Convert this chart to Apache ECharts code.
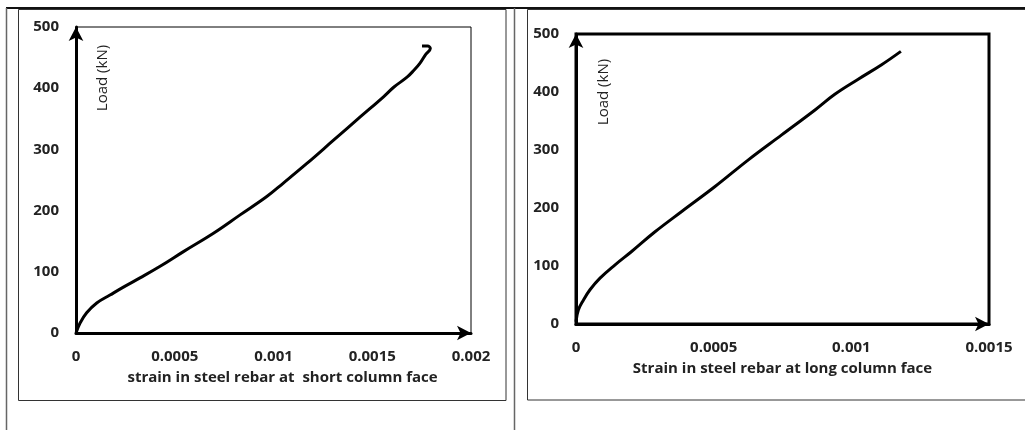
<!DOCTYPE html>
<html>
<head>
<meta charset="utf-8">
<script src="https://cdn.jsdelivr.net/npm/echarts@6/dist/echarts.min.js"></script>
<style>
html,body{margin:0;padding:0;background:#fff;}
#chart{width:1025px;height:430px;}
</style>
</head>
<body>
<div id="chart"></div>
<script>
// ---- data ----
const shortStrain = [0, 0.00002, 0.000054, 0.000105, 0.000172, 0.00024, 0.000324, 0.000426, 0.000544, 0.000696, 0.000831, 0.000966, 0.00105, 0.001169, 0.001304, 0.001439, 0.001557, 0.00161, 0.001676, 0.00171, 0.001742, 0.00177, 0.001794, 0.00178, 0.001752];
const shortLoad   = [0, 16, 33, 49, 62, 75, 90, 109, 133, 163, 193, 223, 245, 277, 315, 353, 386, 402, 418, 429, 441, 455, 465, 469, 469];
const longStrain = [0, 0.0000085, 0.0000266, 0.0000508, 0.0000872, 0.000142, 0.000202, 0.000287, 0.000384, 0.000505, 0.000626, 0.000747, 0.000868, 0.00094, 0.001025, 0.00111, 0.00118];
const longLoad   = [4, 24, 41, 59, 79, 102, 125, 159, 194, 237, 283, 326, 369, 396, 422, 447, 470];
const leftXTicks = ['0', '0.0005', '0.001', '0.0015', '0.002'];
const rightXTicks = ['0', '0.0005', '0.001', '0.0015'];
const yTicks = ['0', '100', '200', '300', '400', '500'];
const leftXTitle = 'strain in steel rebar at  short column face';
const rightXTitle = 'Strain in steel rebar at long column face';
const yTitle = 'Load (kN)';

const chart = echarts.init(document.getElementById('chart'));
const FONT = '"Open Sans", "Liberation Sans", sans-serif';
const TXT = '#222';

function pairs(xs, ys){ return xs.map((x,i)=>[x, ys[i]]); }
function xLabel(arr){ return v => arr[Math.round(v/0.0005)] ?? ''; }
function yLabel(v){ return yTicks[Math.round(v/100)] ?? ''; }

function xAxis(gi, max, ticks, title, pad){
  return {
    type:'value', gridIndex:gi, min:0, max:max, interval:0.0005,
    axisLine:{show:true, onZero:false, symbol:['none','arrow'], symbolSize:[11,14], lineStyle:{color:'#000', width:3}},
    axisTick:{show:false}, splitLine:{show:false},
    axisLabel:{formatter:xLabel(ticks), color:TXT, fontSize:15, fontWeight:'bold', fontFamily:FONT, margin:16},
    name:title, nameLocation:'middle', nameGap:37,
    nameTextStyle:{color:TXT, fontSize:15, fontWeight:'bold', fontFamily:FONT, padding:pad}
  };
}
function yAxis(gi){
  return {
    type:'value', gridIndex:gi, min:0, max:500, interval:100,
    axisLine:{show:true, onZero:false, symbol:['none','arrow'], symbolSize:[11,14], lineStyle:{color:'#000', width:3}},
    axisTick:{show:false}, splitLine:{show:false},
    axisLabel:{formatter:yLabel, color:TXT, fontSize:15, fontWeight:'bold', fontFamily:FONT, margin:17}
  };
}

chart.setOption({
  animation:false,
  backgroundColor:'#fff',
  grid:[
    {left:76, top:27, width:395, height:306, show:true, borderColor:'#000', borderWidth:1},
    {left:576, top:34, width:413, height:290, show:true, borderColor:'#000', borderWidth:3}
  ],
  xAxis:[ xAxis(0, 0.002, leftXTicks, leftXTitle, [0,0,0,18]), xAxis(1, 0.0015, rightXTicks, rightXTitle, [0,0,0,0]) ],
  yAxis:[ yAxis(0), yAxis(1) ],
  series:[
    {type:'line', xAxisIndex:0, yAxisIndex:0, data:pairs(shortStrain, shortLoad), showSymbol:false, smooth:0.4,
     lineStyle:{color:'#000', width:3}, z:5},
    {type:'line', xAxisIndex:1, yAxisIndex:1, data:pairs(longStrain, longLoad), showSymbol:false, smooth:0.4,
     lineStyle:{color:'#000', width:3}, z:5}
  ],
  graphic:[
    {type:'line', shape:{x1:6, y1:8, x2:1025, y2:8}, style:{stroke:'#111', lineWidth:2}},
    {type:'line', shape:{x1:6.5, y1:8, x2:6.5, y2:430}, style:{stroke:'#666', lineWidth:1.5}},
    {type:'line', shape:{x1:514.5, y1:8, x2:514.5, y2:430}, style:{stroke:'#666', lineWidth:1.5}},
    {type:'rect', shape:{x:18.5, y:9.5, width:487.5, height:391}, style:{fill:'none', stroke:'#333', lineWidth:1}},
    {type:'rect', shape:{x:527.5, y:9.5, width:520, height:390.5}, style:{fill:'none', stroke:'#333', lineWidth:1}},
    {type:'text', x:103, y:78, rotation:Math.PI/2, style:{text:yTitle, fill:TXT, font:'500 15px ' + FONT, align:'center', verticalAlign:'middle'}},
    {type:'text', x:604, y:92, rotation:Math.PI/2, style:{text:yTitle, fill:TXT, font:'500 15px ' + FONT, align:'center', verticalAlign:'middle'}}
  ]
});
</script>
</body>
</html>
